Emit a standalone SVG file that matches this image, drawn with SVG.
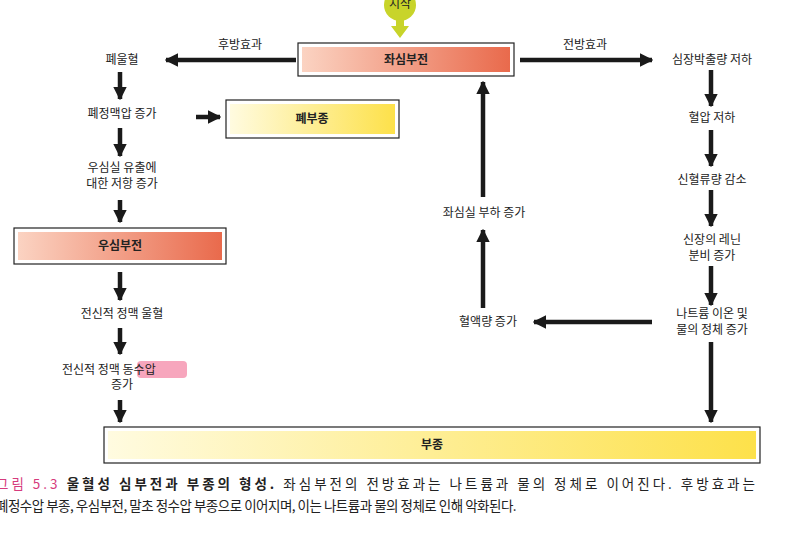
<svg xmlns="http://www.w3.org/2000/svg" width="796" height="534" viewBox="0 0 796 534">
<defs>
<linearGradient id="red" x1="0" x2="1"><stop offset="0" stop-color="#fbd3c2"/><stop offset="1" stop-color="#e96a4c"/></linearGradient>
<linearGradient id="yel" x1="0" x2="1"><stop offset="0" stop-color="#fffbe0"/><stop offset="1" stop-color="#fde14a"/></linearGradient>
<marker id="ah" viewBox="0 0 10 10" refX="9" refY="5" markerWidth="3" markerHeight="3.4" orient="auto" markerUnits="strokeWidth"><path d="M0,0L10,5L0,10z" fill="#1a1a1a"/></marker>
<style>
text{font-family:"Noto Sans CJK KR",sans-serif;font-size:12px;fill:#222;text-anchor:middle}
.b{font-weight:bold}
.ob{fill:#fff;stroke:#222;stroke-width:1.2}
line{stroke:#1a1a1a;stroke-width:4.5;marker-end:url(#ah)}
text.cap{text-anchor:start;font-size:13.5px}
text.st{text-anchor:start}
</style>
</defs>
<g id="start"><ellipse cx="400" cy="5" rx="16" ry="16" fill="#c8d42a"/><path d="M396,18h8v8h5l-9,12l-9,-12h5z" fill="#c8d42a"/><text x="400" y="8" font-size="11">시작</text></g>
<g id="lhf"><rect class="ob" x="298" y="43" width="216" height="33"/><rect x="302" y="47" width="208" height="25" fill="url(#red)"/><text class="b" x="406" y="64">좌심부전</text></g>
<g id="pe"><rect class="ob" x="226" y="100" width="173" height="38"/><rect x="230" y="104" width="165" height="30" fill="url(#yel)"/><text class="b" x="312" y="123">폐부종</text></g>
<g id="rhf"><rect class="ob" x="14" y="228" width="212" height="36"/><rect x="18" y="232" width="204" height="28" fill="url(#red)"/><text class="b" x="120" y="250">우심부전</text></g>
<g id="edema"><rect class="ob" x="104" y="427" width="656" height="36"/><rect x="108" y="431" width="648" height="28" fill="url(#yel)"/><text class="b" x="432" y="449">부종</text></g>
<g id="l1"><text x="122" y="64">폐울혈</text></g>
<g id="l2"><text x="122" y="118">폐정맥압 증가</text></g>
<g id="l3"><text x="122" y="172">우심실 유출에</text><text x="122" y="188">대한 저항 증가</text></g>
<g id="l4"><text x="122" y="318">전신적 정맥 울혈</text></g>
<g id="l5"><rect x="137" y="361" width="50" height="17" rx="4" fill="#f7a6bd"/><text class="st" x="62" y="374">전신적 정맥 동수압</text><text x="122" y="389">증가</text></g>
<g id="r1"><text x="712" y="64">심장박출량 저하</text></g>
<g id="r2"><text x="712" y="122">혈압 저하</text></g>
<g id="r3"><text x="712" y="184">신혈류량 감소</text></g>
<g id="r4"><text x="712" y="244">신장의 레닌</text><text x="712" y="260">분비 증가</text></g>
<g id="r5"><text x="712" y="318">나트륨 이온 및</text><text x="712" y="334">물의 정체 증가</text></g>
<g id="m1"><text x="488" y="326">혈액량 증가</text></g>
<g id="m2"><text x="484" y="217">좌심실 부하 증가</text></g>
<g id="connectors">
<line x1="296" y1="60" x2="166" y2="60"/><text x="240" y="49">후방효과</text>
<line x1="520" y1="60" x2="652" y2="60"/><text x="585" y="49">전방효과</text>
<line x1="120" y1="72" x2="120" y2="99"/>
<line x1="120" y1="128" x2="120" y2="156"/>
<line x1="120" y1="200" x2="120" y2="222"/>
<line x1="120" y1="272" x2="120" y2="300"/>
<line x1="120" y1="328" x2="120" y2="354"/>
<line x1="120" y1="400" x2="120" y2="422"/>
<line x1="196" y1="117" x2="220" y2="117"/>
<line x1="711" y1="70" x2="711" y2="106"/>
<line x1="711" y1="130" x2="711" y2="166"/>
<line x1="711" y1="190" x2="711" y2="226"/>
<line x1="711" y1="266" x2="711" y2="305"/>
<line x1="711" y1="342" x2="711" y2="422"/>
<line x1="652" y1="322" x2="534" y2="322"/>
<line x1="483" y1="308" x2="483" y2="230"/>
<line x1="483" y1="197" x2="483" y2="82"/>
</g>
<g id="caption">
<text class="cap" x="-4" y="489" letter-spacing="3"><tspan fill="#d63b7d">그림 5.3</tspan> <tspan class="b">울혈성 심부전과 부종의 형성.</tspan> 좌심부전의 전방효과는 나트륨과 물의 정체로 이어진다. 후방효과는</text>
<text class="cap" x="-4" y="511" letter-spacing="-0.5">폐정수압 부종, 우심부전, 말초 정수압 부종으로 이어지며, 이는 나트륨과 물의 정체로 인해 악화된다.</text>
</g>
</svg>
